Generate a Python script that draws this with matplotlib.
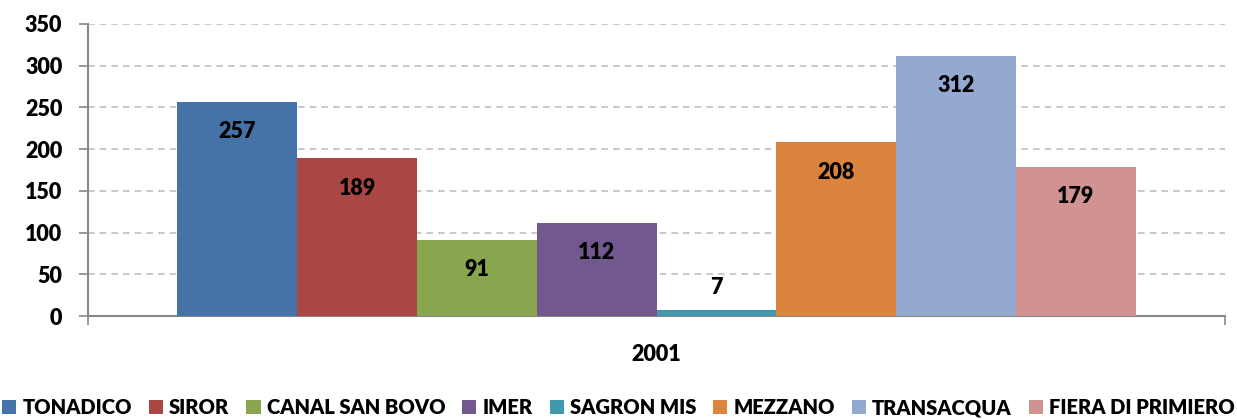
import matplotlib
matplotlib.use("Agg")
import matplotlib.pyplot as plt
import numpy as np

categories = ["2001"]
series_names = ["TONADICO", "SIROR", "CANAL SAN BOVO", "IMER", "SAGRON MIS",
                "MEZZANO", "TRANSACQUA", "FIERA DI PRIMIERO"]
values = [257, 189, 91, 112, 7, 208, 312, 179]
colors = ["#4572A7", "#AA4643", "#89A54E", "#71588F", "#4198AF",
          "#DB843D", "#93A9CF", "#D19392"]
yticks = [0, 50, 100, 150, 200, 250, 300, 350]

W = 'heavy'
plt.rcParams['font.family'] = ['Lato', 'DejaVu Sans']
plt.rcParams['font.weight'] = W

fig = plt.figure(figsize=(12.37, 4.19), dpi=100)
ax = fig.add_axes([88/1237, 1-316/419, (1225-88)/1237, (316-24)/419])

n = len(values)
group_w = 0.8426
bw = group_w / n
for i, (name, v, c) in enumerate(zip(series_names, values, colors)):
    x = -group_w/2 + bw*(i+0.5)
    ax.bar(x, v, width=bw, color=c, label=name, zorder=3)
    off = -21.5 if v > 40 else 16.5
    ax.annotate(str(v), (x, v), xytext=(0, off), textcoords='offset points',
                ha='center', va='center', fontsize=15.5, fontweight=W, zorder=4)

ax.set_xlim(-0.5, 0.5)
ax.set_ylim(0, 350)
ax.set_yticks(yticks)
ax.set_yticklabels([str(t) for t in yticks], fontsize=15.5, fontweight=W)
ax.yaxis.grid(True, linestyle=(0, (4, 3)), color='#C0C0C0', linewidth=1.2, zorder=0)
ax.set_axisbelow(True)

ax.set_xticks([-0.5, 0.5])
ax.set_xticklabels(['', ''])
ax.set_xticks([0], minor=True)
ax.set_xticklabels(categories, minor=True, fontsize=15.5, fontweight=W)
ax.tick_params(axis='x', which='minor', length=0, pad=20)
ax.tick_params(axis='x', which='major', length=6.5, color='#888888', width=1.2)
ax.tick_params(axis='y', length=6.5, color='#888888', width=1.2, pad=12)

for s in ['top', 'right']:
    ax.spines[s].set_visible(False)
for s in ['left', 'bottom']:
    ax.spines[s].set_color('#888888')
    ax.spines[s].set_linewidth(1.5)

fig.legend(loc='lower center', ncol=8, frameon=False, bbox_to_anchor=(0.5, 0.004),
           prop={'size': 14.5, 'weight': W}, handlelength=0.7, handleheight=0.7,
           handletextpad=0.3, columnspacing=0.85, borderaxespad=0, borderpad=0)

fig.savefig("out.png", dpi=100)
